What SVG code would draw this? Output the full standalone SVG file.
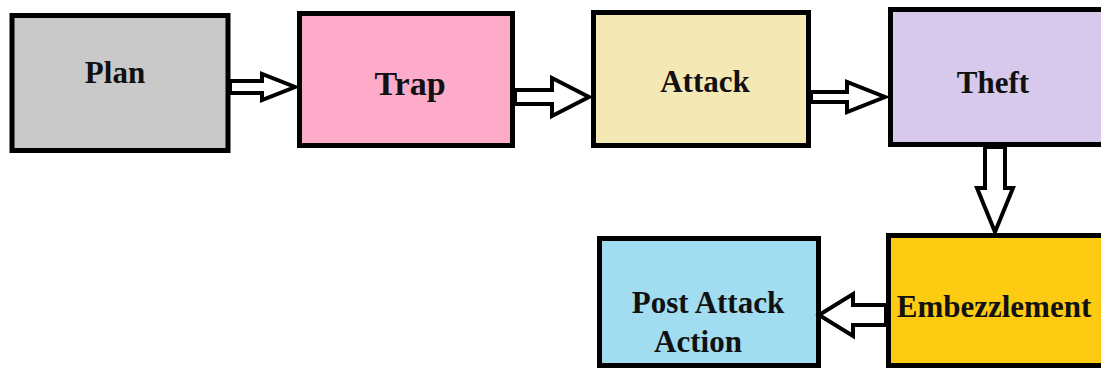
<svg xmlns="http://www.w3.org/2000/svg" width="1101" height="370" viewBox="0 0 1101 370">
  <style>
    .box { stroke: #000; stroke-width: 5; }
    .lbl { font-family: "Liberation Serif", "Times New Roman", serif; font-weight: bold; font-size: 31px; fill: #111; text-anchor: middle; }
    .arrow { fill: #fff; stroke: #000; stroke-width: 4; stroke-linejoin: miter; }
  </style>
  <rect width="1101" height="370" fill="#fff"/>

  <g id="plan">
    <rect class="box" x="12" y="15.5" width="216" height="135" fill="#c9c9c9"/>
    <text class="lbl" x="115" y="83">Plan</text>
  </g>
  <g id="trap">
    <rect class="box" x="299.5" y="13.5" width="213" height="132" fill="#fdabc9"/>
    <text class="lbl" x="410" y="95" style="font-size:34px">Trap</text>
  </g>
  <g id="attack">
    <rect class="box" x="593.5" y="12.5" width="215" height="133" fill="#f4e8b4"/>
    <text class="lbl" x="705" y="92">Attack</text>
  </g>
  <g id="theft">
    <rect class="box" x="890.5" y="9.5" width="230" height="135" fill="#d6c9ec"/>
    <text class="lbl" x="993" y="93">Theft</text>
  </g>
  <g id="embezzlement">
    <rect class="box" x="888.5" y="235.5" width="230" height="130" fill="#fdcc12"/>
    <text class="lbl" x="994" y="317">Embezzlement</text>
  </g>
  <g id="post-attack-action">
    <rect class="box" x="599.5" y="238.5" width="219" height="127" fill="#a2dcf0"/>
    <text class="lbl" x="708" y="313">Post Attack</text>
    <text class="lbl" x="698" y="352">Action</text>
  </g>

  <g id="connectors">
    <polygon class="arrow" points="230,81 262,81 262,74 295,87 262,100 262,93 230,93"/>
    <polygon class="arrow" points="515,90 552,90 552,78 589,97 552,116 552,104 515,104"/>
    <polygon class="arrow" points="811,92 847,92 847,82 885,97 847,112 847,102 811,102"/>
    <polygon class="arrow" points="985,147 1005,147 1005,188 1013,188 995,232 977,188 985,188"/>
    <polygon class="arrow" points="886,305 853,305 853,294 819,315 853,336 853,325 886,325"/>
  </g>
</svg>
